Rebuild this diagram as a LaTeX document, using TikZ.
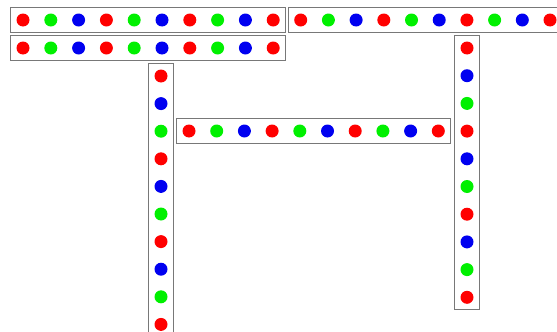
\documentclass[tikz,border=0pt]{standalone}
\usetikzlibrary{fit}
\definecolor{ledRed}{HTML}{FF0000}
\definecolor{ledGreen}{HTML}{00F000}
\definecolor{ledBlue}{HTML}{0000F0}
\definecolor{stripEdge}{HTML}{787878}
\newcommand{\rowcols}{ledRed,ledGreen,ledBlue,ledRed,ledGreen,ledBlue,ledRed,ledGreen,ledBlue,ledRed}
\newcommand{\colcols}{ledRed,ledBlue,ledGreen,ledRed,ledBlue,ledGreen,ledRed,ledBlue,ledGreen,ledRed}
% name, first led x, first led y, step x, step y, colours
\newcommand{\ledstrip}[6]{%
  \foreach \col [count=\i from 0] in #6
    \node[led,fill=\col] (#1-\i) at (#2+\i*#4,#3+\i*#5) {};
  \node[stripbox,fit=(#1-0)(#1-9)] (#1) {};
}

\begin{document}
\begin{tikzpicture}[x=1pt,y=-1pt,
    led/.style={circle,inner sep=0pt,minimum size=13pt},
    stripbox/.style={draw=stripEdge,line width=1pt,inner sep=5.5pt}]
  \fill[white] (0,0) rectangle (557,332);
  \clip (0,0) rectangle (557,332);
  % two rows along the top
  \ledstrip{rowA}{23}{20}{27.8}{0}{\rowcols}
  \ledstrip{rowB}{23}{48}{27.8}{0}{\rowcols}
  \ledstrip{rowC}{300.7}{20}{27.7}{0}{\rowcols}
  % middle row and the two columns
  \ledstrip{rowD}{189}{131}{27.7}{0}{\rowcols}
  \ledstrip{colA}{161}{76}{0}{27.6}{\colcols}
  \ledstrip{colB}{467}{48}{0}{27.7}{\colcols}
\end{tikzpicture}
\end{document}
